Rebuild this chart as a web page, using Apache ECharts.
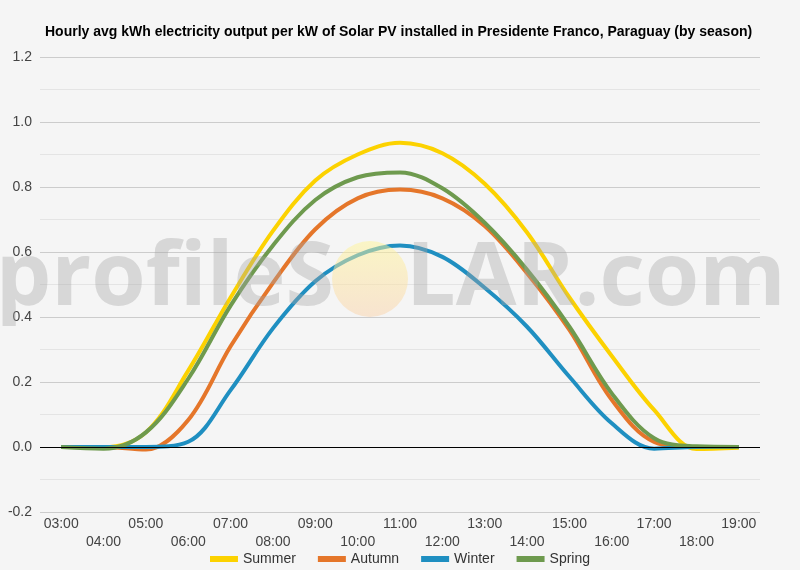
<!DOCTYPE html>
<html>
<head>
<meta charset="utf-8">
<script src="https://cdn.jsdelivr.net/npm/echarts@6/dist/echarts.min.js"></script>
<style>
  html, body { margin: 0; padding: 0; background: #f5f5f5; }
  #main { width: 800px; height: 570px; }
</style>
</head>
<body>
<div id="main"></div>
<script>
// hours of the day (category axis)
var hours = ['03:00', '04:00', '05:00', '06:00', '07:00', '08:00', '09:00', '10:00', '11:00',
             '12:00', '13:00', '14:00', '15:00', '16:00', '17:00', '18:00', '19:00'];

// hourly avg kWh per kW, by season
var summer = [0, 0, 0.045, 0.235, 0.46, 0.665, 0.82, 0.90, 0.936, 0.904, 0.81, 0.66, 0.46, 0.28, 0.114, -0.006, -0.002];
var autumn = [0, 0, -0.008, 0.083, 0.31, 0.505, 0.67, 0.765, 0.792, 0.765, 0.68, 0.535, 0.36, 0.145, 0.016, 0, 0];
var winter = [0, 0, 0, 0.016, 0.175, 0.365, 0.51, 0.59, 0.62, 0.585, 0.49, 0.37, 0.216, 0.073, -0.005, 0, 0];
var spring = [0, -0.005, 0.045, 0.21, 0.435, 0.62, 0.76, 0.83, 0.845, 0.796, 0.69, 0.545, 0.37, 0.165, 0.027, 0.002, 0];

var seasonNames = ['Summer', 'Autumn', 'Winter', 'Spring'];
var seasonColors = ['#fcd200', '#e5762a', '#1f8fc1', '#6e9a4e'];

var myChart = echarts.init(document.getElementById('main'));

function lineSeries(name, data, color) {
  return {
    name: name,
    type: 'line',
    data: data,
    smooth: 0.35,
    showSymbol: false,
    symbol: 'none',
    lineStyle: { width: 4, color: color },
    itemStyle: { color: color }
  };
}

var series = [
  lineSeries(seasonNames[0], summer, seasonColors[0]),
  lineSeries(seasonNames[1], autumn, seasonColors[1]),
  lineSeries(seasonNames[2], winter, seasonColors[2]),
  lineSeries(seasonNames[3], spring, seasonColors[3])
];
// black zero line
series[0].markLine = {
  silent: true,
  symbol: 'none',
  label: { show: false },
  lineStyle: { color: '#000', width: 1, type: 'solid' },
  data: [{ yAxis: 0 }]
};

myChart.setOption({
  backgroundColor: '#f5f5f5',
  animation: false,
  title: {
    text: 'Hourly avg kWh electricity output per kW of Solar PV installed in Presidente Franco, Paraguay (by season)',
    left: 40,
    top: 20,
    textStyle: { fontFamily: 'Liberation Sans, Arial', fontSize: 14, fontWeight: 'bold', color: '#000' }
  },
  legend: {
    data: seasonNames,
    left: 'center',
    top: 547,
    icon: 'rect',
    itemWidth: 28,
    itemHeight: 6,
    itemGap: 22,
    textStyle: { fontFamily: 'Liberation Sans, Arial', fontSize: 14, color: '#333' }
  },
  grid: { left: 40, right: 40, top: 57, bottom: 58 },
  xAxis: {
    type: 'category',
    data: hours,
    boundaryGap: true,
    axisLine: { show: false },
    axisTick: { show: false },
    axisLabel: {
      interval: 0,
      margin: 3,
      lineHeight: 18,
      fontFamily: 'Liberation Sans, Arial',
      fontSize: 14,
      color: '#444',
      formatter: function (v, i) { return i % 2 ? '\n' + v : v; }
    }
  },
  yAxis: {
    type: 'value',
    min: -0.2,
    max: 1.2,
    interval: 0.2,
    axisLine: { show: false },
    axisTick: { show: false },
    axisLabel: {
      margin: 8,
      fontFamily: 'Liberation Sans, Arial',
      fontSize: 14,
      color: '#444',
      formatter: function (v) { return v.toFixed(1); }
    },
    splitLine: { lineStyle: { color: '#cccccc', width: 1 } },
    minorTick: { show: false, splitNumber: 2 },
    minorSplitLine: { show: true, lineStyle: { color: '#e4e4e4', width: 1 } }
  },
  // profileSOLAR watermark, drawn over the plot
  graphic: [
    {
      type: 'text', z: 100, silent: true,
      x: 334, y: 280,
      style: {
        text: 'profileS', fill: 'rgba(165,165,165,0.38)',
        font: 'bold 88px "Open Sans"', textAlign: 'right', textVerticalAlign: 'middle'
      }
    },
    {
      type: 'circle', z: 100, silent: true,
      shape: { cx: 370, cy: 279, r: 38 },
      style: {
        fill: new echarts.graphic.LinearGradient(0, 0, 0, 1, [
          { offset: 0, color: 'rgba(255,245,150,0.5)' },
          { offset: 1, color: 'rgba(250,210,170,0.5)' }
        ])
      }
    },
    {
      type: 'text', z: 100, silent: true,
      x: 406, y: 280,
      style: {
        text: 'LAR.com', fill: 'rgba(165,165,165,0.38)',
        font: 'bold 88px "Open Sans"', textAlign: 'left', textVerticalAlign: 'middle'
      }
    }
  ],
  series: series
});
</script>
</body>
</html>
